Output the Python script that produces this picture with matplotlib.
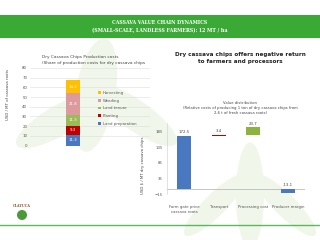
"""Cassava value chain slide: production cost stack and value distribution."""

import matplotlib.pyplot as plt
from matplotlib.patches import Ellipse, Rectangle

# left chart: stacked production costs (bottom to top)
cost_items = ["Land preparation", "Planting", "Land tenure", "Weeding", "Harvesting"]
cost_values = [11.3, 9.3, 11.3, 21.8, 14.3]
cost_colors = ["#4a78c0", "#c00000", "#9bbb59", "#dc9a9c", "#ffc000"]
left_ticks = [0, 10, 20, 30, 40, 50, 60, 70, 80]

# right chart: value distribution
stages = ["Farm gate price\ncassava roots", "Transport", "Processing cost", "Producer margin"]
stage_values = [172.5, 3.4, 23.7, -13.1]
stage_colors = ["#4a78c0", "#c00000", "#8db33f", "#4a78c0"]
right_ticks = [-15, 35, 85, 135, 185]

W, H = 320, 240


def box(x0, y0, x1, y1):
    return [x0 / W, 1 - y1 / H, (x1 - x0) / W, (y1 - y0) / H]


fig = plt.figure(figsize=(3.2, 2.4), dpi=100)
fig.patch.set_facecolor("white")

# faint leaf watermark
bg = fig.add_axes([0, 0, 1, 1], zorder=-5)
bg.set_xlim(0, W)
bg.set_ylim(H, 0)
bg.axis("off")
for cx, cy, w, h, ang in [(95, 95, 40, 115, 10), (60, 120, 30, 100, 60),
                          (135, 115, 30, 100, -55), (250, 195, 28, 105, 0),
                          (215, 205, 22, 85, 45), (285, 205, 22, 85, -45)]:
    bg.add_patch(Ellipse((cx, cy), w, h, angle=ang, color="#f0f6ea", lw=0))
bg.add_patch(Rectangle((0, 15), W, 23, color="#3aa935", lw=0))
bg.plot([0, W], [225, 225], color="#5cb85c", lw=1.0)
bg.add_patch(Ellipse((22, 215), 10, 10, color="#4a9a3a", lw=0))
bg.text(22, 206, "CLAYUCA", fontsize=2.4, color="#8b5a2b", ha="center",
        va="center", fontweight="bold", family="DejaVu Serif")

fig.text(0.5, 1 - 23 / H, "CASSAVA VALUE CHAIN DYNAMICS", ha="center",
         va="center", fontsize=3.4, color="white", fontweight="bold",
         family="DejaVu Serif")
fig.text(0.5, 1 - 31 / H, "(SMALL-SCALE, LANDLESS FARMERS): 12 MT / ha",
         ha="center", va="center", fontsize=3.4, color="white",
         fontweight="bold", family="DejaVu Serif")

# left stacked bar
ax1 = fig.add_axes(box(30, 68, 150, 145.5))
bottom = 0.0
for item, val, col in zip(cost_items, cost_values, cost_colors):
    ax1.bar(0.36, val, width=0.117, bottom=bottom, color=col, label=item,
            zorder=3)
    ax1.text(0.36, bottom + val / 2, f"{val}", ha="center", va="center",
             fontsize=2.8, color="white", zorder=4)
    bottom += val
ax1.set_xlim(0, 1)
ax1.set_ylim(0, 80)
ax1.set_yticks(left_ticks)
ax1.set_xticks([])
ax1.tick_params(axis="y", length=0, labelsize=2.8, colors="#555555", pad=2)
ax1.grid(axis="y", color="#dddddd", lw=0.4, zorder=0)
for s in ax1.spines.values():
    s.set_visible(False)
ax1.set_facecolor("none")
handles, labels = ax1.get_legend_handles_labels()
ax1.legend(handles[::-1], labels[::-1], loc="upper left",
           bbox_to_anchor=(0.54, 0.75), fontsize=2.8, frameon=False,
           handlelength=0.7, handleheight=0.7, handletextpad=0.4,
           labelspacing=0.95, labelcolor="#555555")
fig.text(42 / W, 1 - 60 / H, "Dry Cassava Chips Production costs\n"
         "(Share of production costs for dry cassava chips", ha="left",
         va="center", fontsize=3.1, color="#444444", linespacing=1.6)
fig.text(8 / W, 1 - 95 / H, "USD / MT of cassava roots", rotation=90,
         ha="center", va="center", fontsize=2.8, color="#444444")

# right heading
fig.text(240 / W, 1 - 58 / H, "Dry cassava chips offers negative return\n"
         "to farmers and processors", ha="center", va="center", fontsize=4.1,
         fontweight="bold", color="#222222", linespacing=1.35)
fig.text(240 / W, 1 - 108 / H, "Value distribution\n(Relative costs of "
         "producing 1 ton of dry cassava chips from\n2,6 t of fresh cassava roots)",
         ha="center", va="center", fontsize=2.7, color="#444444",
         linespacing=1.5)

# right waterfall-style chart
ax2 = fig.add_axes(box(167, 122.6, 305, 194))
level = 0.0
for i, (val, col) in enumerate(zip(stage_values, stage_colors)):
    if val < 0:
        base = 0.0
    else:
        base = level
        level += val
    ax2.bar(i, val, width=0.41, bottom=base, color=col, zorder=3)
    top = base + max(val, 0)
    ax2.text(i, top + 6, f"{val}", ha="center", va="bottom", fontsize=2.8,
             color="#444444")
ax2.axhline(0, color="#bbbbbb", lw=0.6, zorder=2)
ax2.set_xlim(-0.5, 3.5)
ax2.set_ylim(-15, 215)
ax2.set_yticks(right_ticks)
ax2.set_xticks(range(len(stages)))
ax2.set_xticklabels(stages)
ax2.tick_params(axis="y", length=0, labelsize=2.8, colors="#555555", pad=3)
ax2.tick_params(axis="x", length=0, labelsize=2.8, colors="#555555", pad=8)
for s in ax2.spines.values():
    s.set_visible(False)
ax2.spines["left"].set_visible(True)
ax2.spines["left"].set_color("#cccccc")
ax2.spines["left"].set_linewidth(0.4)
ax2.set_facecolor("none")
fig.text(143 / W, 1 - 165 / H, "USD $ / MT dry cassava chips", rotation=90,
         ha="center", va="center", fontsize=2.8, color="#444444")

fig.savefig("out.png", dpi=100)
